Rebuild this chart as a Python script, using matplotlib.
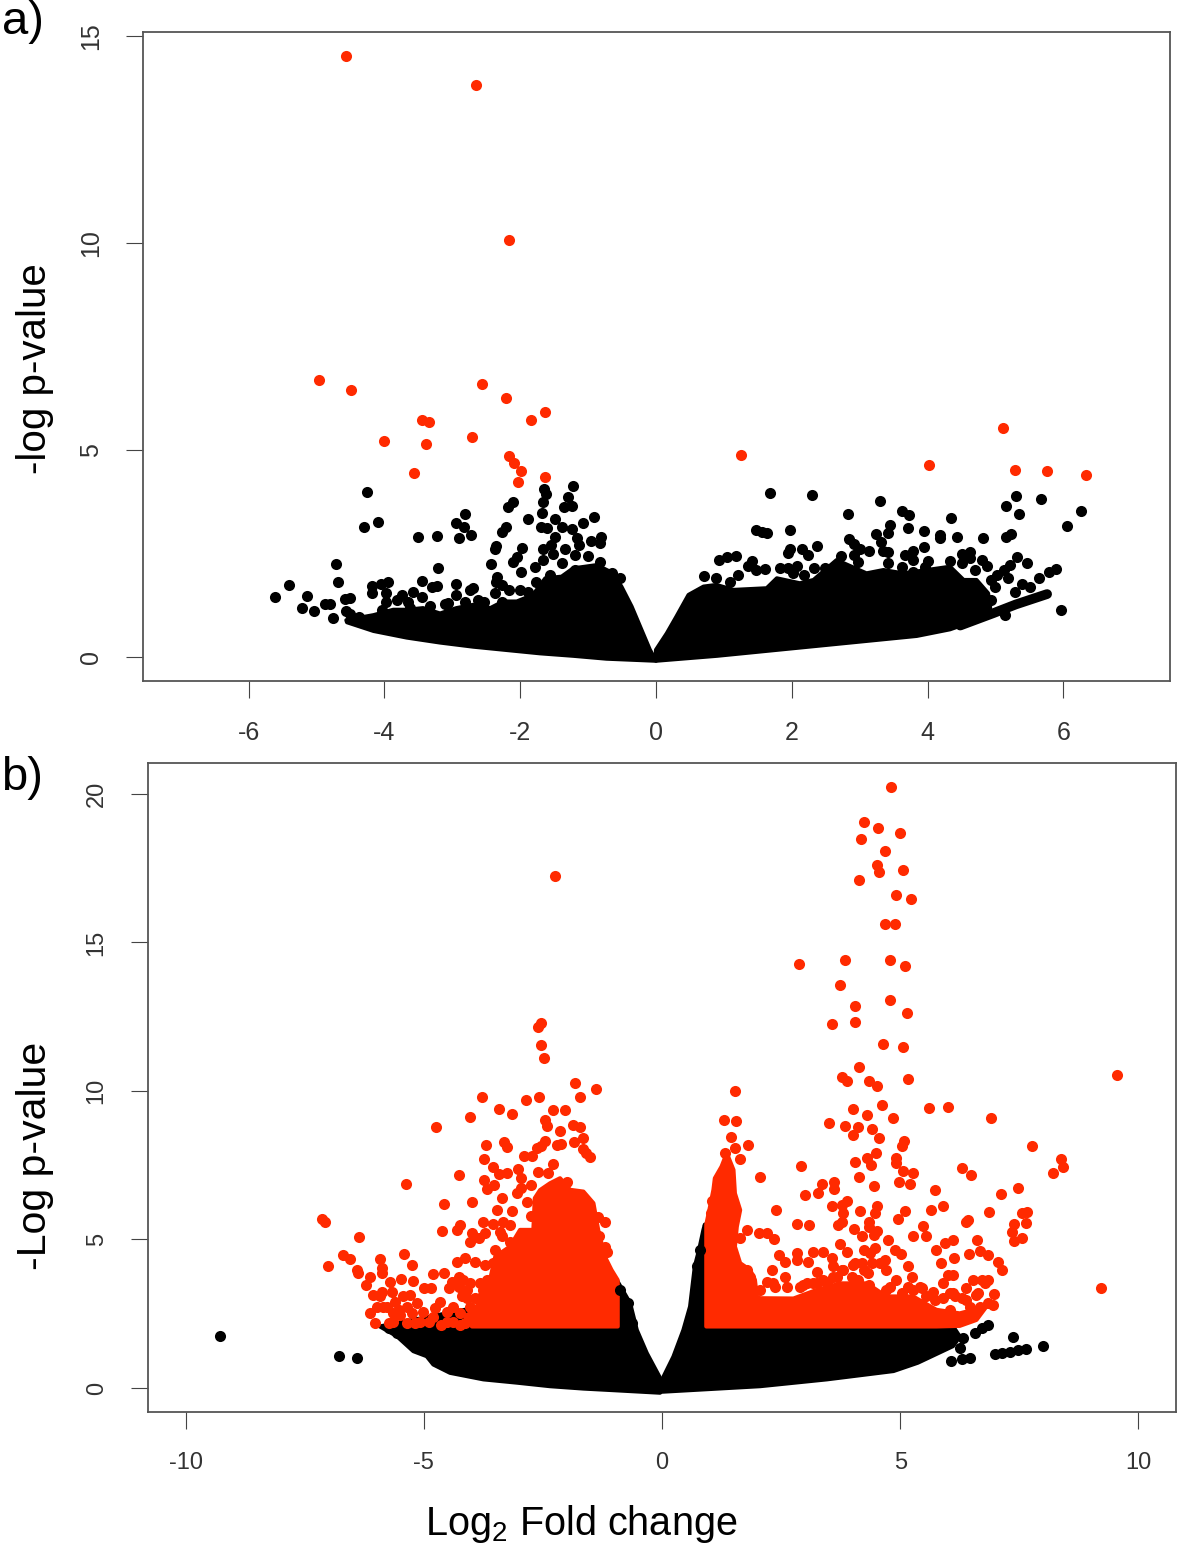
import matplotlib
matplotlib.use("Agg")
import numpy as np
import matplotlib.pyplot as plt

plt.rcParams["font.family"] = ["Liberation Sans", "DejaVu Sans"]
plt.rcParams["mathtext.fontset"] = "custom"
plt.rcParams["mathtext.rm"] = "Liberation Sans"
plt.rcParams["mathtext.default"] = "regular"

W, H = 1181, 1547
RED = "#ff2a00"
GREY = "#555555"

# panel a ticks
a_xticks = [-6, -4, -2, 0, 2, 4, 6]
a_xlabels = ["-6", "-4", "-2", "0", "2", "4", "6"]
a_yticks = [0, 5, 10, 15]
a_ylabels = ["0", "5", "10", "15"]

# panel a significant points
a_red = [(-4.57, 14.52), (-2.65, 13.82), (-2.16, 10.07), (-4.96, 6.69), (-4.49, 6.45),
         (-2.56, 6.59), (-2.21, 6.26), (-1.63, 5.92), (-1.84, 5.72), (-3.45, 5.72),
         (-3.34, 5.68), (-4.01, 5.22), (-3.39, 5.14), (-2.71, 5.31), (-2.16, 4.86),
         (-2.09, 4.69), (-1.99, 4.49), (-2.03, 4.23), (-1.63, 4.35), (-3.56, 4.44),
         (1.25, 4.88), (4.02, 4.64), (5.11, 5.53), (5.29, 4.52), (5.76, 4.49), (6.33, 4.40)]

# panel a scattered black points, left side
a_black_left = [(-4.26, 3.99), (-4.10, 3.27), (-4.30, 3.13), (-3.50, 2.89), (-3.22, 2.93),
                (-2.82, 3.45), (-2.95, 3.24), (-2.83, 3.15), (-2.73, 2.94), (-2.90, 2.87),
                (-4.71, 2.25), (-5.41, 1.74), (-5.61, 1.44), (-5.14, 1.47), (-5.21, 1.19),
                (-5.04, 1.10), (-4.87, 1.29), (-4.80, 1.29), (-4.76, 0.95), (-4.68, 1.80),
                (-4.58, 1.40), (-4.51, 1.43), (-4.57, 1.12), (-4.50, 1.05), (-4.38, 0.97),
                (-4.18, 1.71), (-4.05, 1.76), (-3.94, 1.81), (-4.18, 1.54), (-3.98, 1.54),
                (-3.97, 1.34), (-4.04, 1.14), (-3.82, 1.38), (-3.74, 1.50), (-3.58, 1.57),
                (-3.45, 1.84), (-3.21, 2.14), (-3.30, 1.70), (-3.23, 1.71), (-3.45, 1.44),
                (-3.65, 1.34), (-3.62, 1.18), (-3.33, 1.23), (-3.11, 1.28), (-3.06, 1.30),
                (-2.94, 1.76), (-2.95, 1.50), (-2.74, 1.62), (-2.69, 1.66), (-2.81, 1.34),
                (-2.62, 1.38), (-2.54, 1.34), (-2.59, 1.14), (-2.35, 2.67), (-2.37, 2.60),
                (-2.43, 2.24), (-2.34, 1.94), (-2.36, 1.82), (-2.37, 1.55), (-2.27, 1.74),
                (-2.17, 1.62), (-2.27, 1.34), (-2.10, 3.75), (-2.18, 3.62), (-2.21, 3.13),
                (-2.27, 3.03), (-1.89, 3.33), (-1.98, 2.63), (-2.05, 2.42), (-2.11, 2.29),
                (-1.99, 2.06), (-1.78, 2.18), (-1.77, 1.80), (-2.00, 1.63), (-1.88, 1.58),
                (-1.65, 4.07), (-1.62, 3.94), (-1.67, 3.75), (-1.68, 3.49), (-1.70, 3.15),
                (-1.60, 3.11), (-1.49, 3.33), (-1.39, 3.15), (-1.22, 4.13), (-1.30, 3.87),
                (-1.36, 3.63), (-1.23, 3.66), (-1.24, 3.10), (-1.07, 3.24), (-0.91, 3.38),
                (-0.81, 2.91), (-0.83, 2.75), (-0.95, 2.80), (-1.17, 2.87), (-1.14, 2.71),
                (-1.49, 2.91), (-1.54, 2.71), (-1.67, 2.62), (-1.34, 2.60), (-1.51, 2.50),
                (-1.19, 2.46), (-1.00, 2.44), (-1.66, 2.34), (-1.39, 2.26), (-0.82, 2.30),
                (-1.56, 1.98), (-0.65, 2.02), (-0.53, 1.92), (-1.19, 2.10)]

# panel a scattered black points, right side
a_black_right = [(1.68, 3.97), (2.30, 3.91), (3.30, 3.78), (2.83, 3.45), (3.62, 3.53),
                 (3.73, 3.44), (4.35, 3.36), (3.45, 3.19), (3.42, 3.00), (3.71, 3.12),
                 (3.95, 3.05), (3.24, 2.96), (4.18, 2.95), (4.18, 2.87), (4.43, 2.89),
                 (4.82, 2.87), (5.23, 2.96), (5.16, 2.91), (5.15, 3.65), (5.30, 3.90),
                 (5.34, 3.45), (5.67, 3.82), (6.06, 3.16), (6.26, 3.53), (5.97, 1.13),
                 (5.89, 2.12), (5.79, 2.06), (5.64, 1.91), (1.48, 3.07), (1.56, 3.03),
                 (1.63, 2.99), (1.98, 3.07), (1.97, 2.62), (1.95, 2.52), (2.15, 2.61),
                 (2.37, 2.67), (2.24, 2.46), (0.93, 2.34), (1.05, 2.42), (1.18, 2.45),
                 (1.42, 2.33), (1.36, 2.21), (1.61, 2.12), (1.48, 2.10), (1.21, 1.98),
                 (0.71, 1.96), (0.89, 1.90), (1.09, 1.80), (1.82, 2.16), (1.95, 2.16),
                 (2.07, 2.21), (2.02, 2.02), (2.32, 2.16), (2.49, 2.16), (2.18, 1.98),
                 (2.84, 2.85), (2.91, 2.73), (3.01, 2.61), (3.14, 2.57), (2.73, 2.44),
                 (2.91, 2.46), (2.98, 2.30), (3.31, 2.79), (3.35, 2.57), (3.41, 2.54),
                 (3.94, 2.66), (3.67, 2.46), (3.79, 2.57), (3.79, 2.34), (3.42, 2.28),
                 (3.62, 2.18), (3.79, 2.06), (4.00, 2.33), (3.96, 2.18), (4.33, 2.32),
                 (4.50, 2.50), (4.62, 2.54), (4.62, 2.38), (4.50, 2.26), (4.80, 2.34),
                 (4.87, 2.21), (4.70, 2.10), (5.31, 2.42), (5.21, 2.22), (5.46, 2.26),
                 (5.12, 2.10), (5.02, 1.98), (5.19, 1.90), (4.94, 1.86), (5.39, 1.76),
                 (5.51, 1.70), (5.29, 1.58), (4.99, 1.68), (4.94, 1.38), (4.85, 1.22),
                 (5.14, 1.01), (4.48, 1.58), (4.65, 1.46)]

# panel a thin streak of points at the lower right
a_streak_x = [4.48, 4.97, 5.30, 5.76]
a_streak_y = [0.76, 1.06, 1.27, 1.52]

# panel a outline of the solid mass
a_left_top = [(-4.56, 0.89), (-4.16, 1.01), (-3.87, 1.14), (-3.67, 1.14), (-3.43, 1.18),
              (-3.18, 1.05), (-2.94, 1.18), (-2.69, 1.26), (-2.44, 1.18), (-2.25, 1.34),
              (-2.05, 1.34), (-1.81, 1.50), (-1.63, 1.90), (-1.39, 1.94), (-1.22, 2.14),
              (-0.87, 2.22), (-0.63, 2.02), (-0.51, 1.70), (-0.36, 1.22), (-0.09, 0.17)]
a_left_bottom = [(-4.55, 0.84), (-4.16, 0.63), (-3.67, 0.47), (-3.18, 0.35), (-2.69, 0.25),
                 (-2.20, 0.17), (-1.71, 0.09), (-1.22, 0.03), (-0.73, -0.04), (0.0, -0.09)]
a_right_top = [(0.0, 0.17), (0.16, 0.57), (0.30, 0.97), (0.48, 1.50), (0.70, 1.70),
               (0.89, 1.74), (1.14, 1.62), (1.63, 1.66), (1.78, 1.90), (2.12, 1.78),
               (2.32, 1.86), (2.66, 2.34), (3.10, 2.02), (3.35, 2.10), (3.64, 2.02),
               (3.99, 2.10), (4.33, 2.18), (4.53, 1.86), (4.72, 1.86), (4.89, 1.54),
               (4.92, 1.22)]
a_right_bottom = [(0.0, -0.09), (0.90, 0.03), (1.88, 0.19), (2.86, 0.35), (3.84, 0.51),
                  (4.33, 0.67), (4.82, 0.95), (4.92, 1.02)]

# panel b ticks
b_xticks = [-10, -5, 0, 5, 10]
b_xlabels = ["-10", "-5", "0", "5", "10"]
b_yticks = [0, 5, 10, 15, 20]
b_ylabels = ["0", "5", "10", "15", "20"]

# panel b black points outside the mass
b_black = [(-9.28, 1.76), (-6.78, 1.09), (-6.41, 1.00), (-0.88, 3.30), (-0.71, 2.85),
           (-0.64, 2.18), (-5.57, 1.84), (-5.74, 2.01), (6.85, 2.13), (6.71, 2.01),
           (6.57, 1.84), (6.32, 1.67), (6.25, 1.34), (6.06, 0.92), (6.29, 0.97),
           (6.46, 1.01), (7.37, 1.71), (7.99, 1.41), (6.99, 1.13), (7.13, 1.17),
           (7.30, 1.22), (7.48, 1.28), (7.65, 1.31), (0.80, 4.65), (0.73, 4.09)]

# panel b black mass outline
b_black_left_top = [(-5.92, 2.07), (-0.95, 3.63), (-0.67, 2.85), (-0.53, 1.95), (-0.32, 1.17),
                    (-0.04, 0.33)]
b_black_left_bottom = [(-5.92, 2.07), (-5.57, 1.75), (-5.22, 1.24), (-4.94, 1.07), (-4.80, 0.79),
                       (-4.45, 0.51), (-3.75, 0.29), (-3.05, 0.18), (-2.35, 0.06), (-1.65, -0.02),
                       (-0.95, -0.08), (-0.04, -0.16)]
b_black_right_top = [(0.0, 0.27), (0.24, 1.05), (0.45, 1.95), (0.59, 2.74), (0.69, 4.09),
                     (0.78, 4.65), (0.87, 5.32), (0.90, 5.50), (1.20, 2.30), (5.56, 2.23),
                     (6.11, 2.07), (6.25, 1.73)]
b_black_right_bottom = [(-0.04, -0.13), (2.06, 0.06), (3.46, 0.29), (4.86, 0.57), (5.37, 0.85),
                        (6.11, 1.41), (6.25, 1.73)]

# panel b red mass outline
b_red_left_top = [(-3.99, 2.51), (-3.85, 2.85), (-3.61, 3.64), (-3.50, 4.42), (-3.19, 4.76),
                  (-2.98, 5.32), (-2.70, 5.32), (-2.67, 6.39), (-2.56, 6.66), (-2.35, 6.89),
                  (-2.14, 7.06), (-1.93, 6.67), (-1.65, 6.61), (-1.44, 6.22), (-1.34, 5.32),
                  (-1.20, 4.42), (-1.06, 3.97), (-0.93, 3.63), (-0.93, 2.07), (-3.99, 2.07)]
b_red_right_outline = [(0.93, 2.07), (0.93, 5.50), (1.01, 6.11), (1.08, 6.67), (1.11, 7.06),
                       (1.25, 7.45), (1.36, 7.90), (1.50, 7.34), (1.53, 6.55), (1.64, 5.99),
                       (1.57, 5.43), (1.53, 4.76), (1.64, 4.20), (1.85, 3.97), (1.95, 3.64),
                       (1.99, 3.08), (2.06, 3.02), (2.76, 3.01), (3.25, 3.30), (3.74, 3.52),
                       (4.30, 3.52), (4.71, 3.08), (5.27, 3.08), (5.76, 2.63), (6.25, 2.51),
                       (6.81, 2.74), (6.60, 2.29), (6.25, 2.09), (5.76, 2.07)]

# panel b red points, left side
b_red_left = [(-2.25, 17.24), (-2.54, 12.29), (-2.60, 12.15), (-2.54, 11.55), (-2.47, 11.10),
              (-1.83, 10.26), (-1.39, 10.07), (-1.72, 9.80), (-3.77, 9.80), (-2.58, 9.80),
              (-2.85, 9.69), (-3.43, 9.38), (-3.15, 9.23), (-4.04, 9.12), (-2.28, 9.35),
              (-2.03, 9.35), (-4.74, 8.78), (-2.46, 9.02), (-2.41, 8.82), (-2.14, 8.65),
              (-1.86, 8.86), (-1.73, 8.77), (-1.66, 8.43), (-1.85, 8.29), (-1.65, 8.04),
              (-1.60, 7.90), (-1.51, 7.77), (-3.69, 8.17), (-3.32, 8.29), (-3.26, 8.10),
              (-2.46, 8.33), (-2.53, 8.13), (-2.63, 8.09), (-2.21, 8.18), (-2.11, 8.20),
              (-2.89, 7.82), (-2.72, 7.82), (-3.73, 7.72), (-3.55, 7.43), (-3.43, 7.19),
              (-3.25, 7.25), (-4.27, 7.16), (-5.38, 6.88), (-3.02, 7.37), (-2.97, 7.06),
              (-2.60, 7.28), (-2.28, 7.53), (-2.39, 7.23), (-3.73, 7.00), (-3.53, 6.84),
              (-3.68, 6.69), (-2.74, 6.84), (-2.95, 6.72), (-2.00, 6.95), (-3.05, 6.55),
              (-2.84, 6.27), (-3.35, 6.39), (-3.99, 6.25), (-4.58, 6.20), (-3.46, 6.00),
              (-3.15, 5.95), (-7.14, 5.69), (-7.08, 5.58), (-2.74, 5.79), (-3.75, 5.58),
              (-3.54, 5.52), (-3.33, 5.57), (-3.19, 5.47), (-1.20, 5.58), (-1.34, 5.77),
              (-4.24, 5.49), (-4.30, 5.31), (-4.62, 5.29), (-3.99, 5.21), (-3.71, 5.21),
              (-3.85, 5.04), (-4.03, 4.93), (-3.40, 5.26), (-3.36, 5.10), (-6.37, 5.07),
              (-1.32, 5.10), (-1.20, 4.76), (-1.16, 4.59), (-3.50, 4.65), (-3.19, 4.93),
              (-6.70, 4.48), (-6.55, 4.33), (-7.02, 4.10), (-6.41, 3.97), (-6.39, 3.88),
              (-5.92, 4.35), (-5.42, 4.50), (-5.24, 4.13), (-5.88, 4.03), (-5.87, 3.86),
              (-6.13, 3.73), (-6.21, 3.45), (-5.71, 3.56), (-5.47, 3.66), (-5.23, 3.61),
              (-4.81, 3.85), (-4.57, 3.88), (-4.99, 3.38), (-4.85, 3.36), (-6.06, 3.13),
              (-5.88, 3.24), (-5.67, 3.24), (-5.43, 3.08), (-5.29, 3.13), (-6.14, 2.51),
              (-6.02, 2.20), (-5.85, 2.74), (-5.64, 2.51), (-5.74, 2.18), (-5.36, 2.18),
              (-5.18, 2.18), (-5.15, 2.85), (-5.01, 2.57), (-4.80, 2.40), (-4.64, 2.12),
              (-4.66, 2.91), (-4.52, 2.57), (-4.38, 2.23), (-4.24, 2.12), (-4.48, 3.36),
              (-4.41, 3.58), (-4.27, 3.75), (-4.17, 3.64), (-4.10, 3.30), (-4.20, 3.08),
              (-4.03, 2.74), (-4.13, 2.18), (-4.31, 4.25), (-4.13, 4.37), (-3.92, 4.25),
              (-3.71, 4.14), (-3.82, 3.52), (-3.75, 3.30), (-3.92, 3.02), (-3.54, 4.20),
              (-3.33, 4.31), (-5.64, 2.23), (-5.50, 2.46), (-5.36, 2.74), (-5.25, 2.51),
              (-5.08, 2.23), (-4.90, 2.23), (-4.76, 2.68), (-4.52, 2.23), (-4.38, 2.74),
              (-4.24, 2.51), (-4.06, 2.40), (-3.85, 2.29), (-3.82, 3.02), (-3.68, 3.64),
              (-4.03, 3.52), (-4.10, 3.02), (-4.27, 3.41), (-5.60, 2.91), (-5.53, 2.63),
              (-5.92, 3.08), (-5.78, 2.74), (-5.99, 2.74)]

# panel b red points, right side
b_red_right = [(4.81, 20.24), (4.25, 19.07), (4.53, 18.84), (4.99, 18.69), (4.18, 18.48),
               (4.68, 18.08), (4.52, 17.61), (4.55, 17.36), (5.06, 17.43), (4.13, 17.09),
               (4.92, 16.61), (5.23, 16.45), (4.68, 15.63), (4.90, 15.63), (2.87, 14.28),
               (3.85, 14.42), (4.78, 14.42), (5.10, 14.22), (3.74, 13.57), (4.78, 13.05),
               (4.06, 12.87), (5.15, 12.63), (3.57, 12.24), (4.06, 12.33), (4.63, 11.59),
               (5.06, 11.49), (4.14, 10.82), (9.56, 10.55), (1.53, 10.00), (1.30, 9.02),
               (1.55, 8.99), (3.77, 10.48), (3.89, 10.35), (4.34, 10.35), (4.51, 10.16),
               (5.16, 10.40), (4.61, 9.54), (4.00, 9.38), (4.31, 9.18), (4.85, 9.08),
               (5.60, 9.42), (6.01, 9.45), (6.90, 9.08), (3.50, 8.91), (3.85, 8.82),
               (4.11, 8.79), (4.02, 8.50), (4.40, 8.72), (4.55, 8.43), (5.08, 8.32),
               (5.03, 8.16), (1.44, 8.44), (1.80, 8.18), (1.54, 8.07), (1.32, 7.90),
               (1.64, 7.72), (7.77, 8.16), (8.38, 7.71), (8.42, 7.44), (8.21, 7.23),
               (2.91, 7.47), (2.06, 7.10), (4.50, 7.90), (4.30, 7.73), (4.05, 7.61),
               (4.38, 7.51), (4.92, 7.73), (4.91, 7.56), (5.05, 7.32), (5.26, 7.24),
               (4.14, 7.10), (4.46, 6.81), (4.98, 6.95), (5.20, 6.87), (3.36, 6.88),
               (3.62, 6.92), (3.61, 6.69), (3.28, 6.55), (3.01, 6.51), (6.29, 7.40),
               (6.49, 7.17), (5.74, 6.68), (7.48, 6.73), (7.11, 6.52), (5.90, 6.11),
               (5.64, 6.00), (5.11, 5.95), (4.96, 5.69), (4.16, 5.96), (4.51, 6.11),
               (4.47, 5.90), (3.89, 6.31), (3.77, 6.16), (3.56, 6.11), (3.81, 5.88),
               (2.39, 6.00), (2.84, 5.51), (3.09, 5.49), (3.77, 5.60), (3.70, 5.47),
               (4.35, 5.60), (4.35, 5.41), (4.51, 5.30), (4.04, 5.36), (4.19, 5.10),
               (4.44, 5.15), (1.79, 5.31), (2.04, 5.20), (2.20, 5.21), (2.35, 5.03),
               (1.64, 5.04), (6.39, 5.60), (6.43, 5.66), (6.86, 5.91), (7.55, 5.90),
               (7.67, 5.93), (7.65, 5.56), (7.39, 5.51), (7.34, 5.24), (7.55, 5.05),
               (7.39, 4.95), (5.47, 5.45), (5.27, 5.13), (5.55, 5.13), (4.74, 4.98),
               (4.89, 4.65), (5.01, 4.51), (5.94, 4.88), (6.11, 4.98), (5.76, 4.65),
               (6.61, 4.98), (6.67, 4.62), (6.85, 4.46), (6.44, 4.51), (6.14, 4.37),
               (5.85, 4.20), (7.06, 4.23), (7.14, 3.97), (5.16, 4.09), (5.24, 3.75),
               (3.74, 4.84), (3.88, 4.59), (2.46, 4.46), (2.58, 4.25), (2.30, 3.97),
               (2.84, 4.53), (2.83, 4.31), (3.18, 4.59), (3.39, 4.59), (3.56, 4.37),
               (3.07, 4.23), (3.25, 3.92), (3.60, 4.09), (4.23, 4.65), (4.47, 4.70),
               (4.68, 4.31), (4.71, 3.97), (4.19, 4.20), (4.33, 3.86), (4.35, 3.47),
               (4.05, 4.20), (3.81, 3.97), (6.97, 3.17), (6.95, 2.79), (6.85, 3.64),
               (6.71, 3.64), (6.53, 3.64), (6.11, 3.80), (6.01, 3.80), (5.90, 3.52),
               (6.38, 3.36), (6.11, 3.19), (6.64, 3.19), (5.69, 3.24), (5.73, 2.96),
               (5.45, 3.36), (9.21, 3.36), (2.20, 3.58), (2.37, 3.39), (2.58, 3.75),
               (2.62, 3.41), (2.97, 3.47), (3.18, 3.52), (3.46, 3.52), (3.60, 3.75),
               (4.02, 4.14), (4.12, 3.64), (4.37, 4.53), (4.44, 3.08), (4.71, 3.30),
               (4.92, 3.64), (5.17, 3.41), (5.41, 3.41), (6.04, 3.19), (6.29, 3.02),
               (6.46, 2.74), (6.67, 2.74), (6.85, 2.85), (6.04, 2.63), (6.18, 2.40),
               (1.78, 3.97), (1.81, 3.75), (3.25, 3.52), (2.90, 3.41), (3.04, 3.52),
               (3.39, 3.64), (3.67, 3.75), (3.77, 3.97), (3.98, 3.75), (4.23, 3.97),
               (4.40, 4.20), (4.58, 4.20), (4.78, 3.41), (5.03, 3.19), (5.27, 3.30),
               (5.55, 3.08), (5.90, 3.02), (6.15, 3.08), (6.39, 2.96), (6.60, 3.13),
               (6.78, 3.52), (2.34, 3.52), (2.06, 3.30), (1.85, 3.75), (1.71, 3.97),
               (1.02, 5.90), (1.04, 6.30)]


def pixel_axes(left, right, top, bottom):
    return fig.add_axes([left / W, 1 - bottom / H, (right - left) / W, (bottom - top) / H])


def dots(ax, pts, color):
    pts = np.array(pts)
    ax.plot(pts[:, 0], pts[:, 1], "o", color=color, ms=8, mew=0, zorder=3)


def blob(ax, top, bottom, color):
    # outline of an area where the points overlap completely
    outline = np.array(top + bottom[::-1])
    ax.fill(outline[:, 0], outline[:, 1], facecolor=color, edgecolor=color, lw=3,
            joinstyle="round", zorder=2)


def style(ax, xticks, xlabels, yticks, ylabels, fs):
    ax.set_xticks(xticks)
    ax.set_xticklabels(xlabels, fontsize=fs, color="#333333")
    ax.set_yticks(yticks)
    ax.set_yticklabels(ylabels, fontsize=fs, color="#333333", rotation=90, va="center")
    ax.tick_params(axis="both", length=12, width=0.8, color="#444444", pad=17)
    for s in ax.spines.values():
        s.set_linewidth(1.3)
        s.set_color(GREY)


fig = plt.figure(figsize=(W / 100, H / 100), dpi=100)

# a)
ax1 = pixel_axes(143, 1170, 32, 681)
blob(ax1, a_left_top, a_left_bottom, "black")
blob(ax1, a_right_top, a_right_bottom, "black")
ax1.plot(a_streak_x, a_streak_y, color="black", lw=7, solid_capstyle="round", zorder=2)
dots(ax1, a_black_left, "black")
dots(ax1, a_black_right, "black")
dots(ax1, a_red, RED)
ax1.set_xlim(-7.555, 7.57)
ax1.set_ylim(-0.58, 15.1)
style(ax1, a_xticks, a_xlabels, a_yticks, a_ylabels, 18)

# b)
ax2 = pixel_axes(148, 1176, 763, 1412)
blob(ax2, b_black_left_top, b_black_left_bottom, "black")
blob(ax2, b_black_right_top, b_black_right_bottom, "black")
dots(ax2, b_black, "black")
ax2.set_xlim(-10.79, 10.79)
ax2.set_ylim(-0.81, 21.04)
blob(ax2, b_red_left_top, [], RED)
blob(ax2, b_red_right_outline, [], RED)
dots(ax2, b_red_left, RED)
dots(ax2, b_red_right, RED)
style(ax2, b_xticks, b_xlabels, b_yticks, b_ylabels, 17)

fig.text(35 / W, 1 - 369 / H, "-log p-value", rotation=90, fontsize=29, ha="center", va="center")
fig.text(35 / W, 1 - 1156 / H, "-Log p-value", rotation=90, fontsize=29.5, ha="center", va="center")
fig.text(581 / W, 1 - 1524 / H, "Log$_2$ Fold change", fontsize=28.5, ha="center", va="center")
fig.text(2 / W, 1 - 22 / H, "a)", fontsize=34, ha="left", va="center")
fig.text(1 / W, 1 - 778 / H, "b)", fontsize=34, ha="left", va="center")

fig.savefig("out.png", dpi=100)
